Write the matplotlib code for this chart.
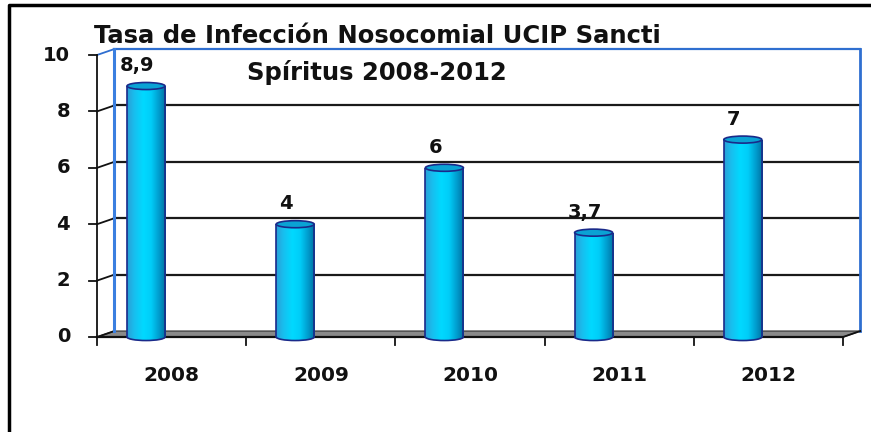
import numpy as np
import matplotlib
matplotlib.use("Agg")
import matplotlib.pyplot as plt
from matplotlib.colors import LinearSegmentedColormap
from matplotlib.patches import Ellipse, Arc, Polygon
from matplotlib.lines import Line2D

YEARS = ["2008", "2009", "2010", "2011", "2012"]
TASA = [8.9, 4, 6, 3.7, 7]
Y_TICKS = [0, 2, 4, 6, 8, 10]
TITLE_1 = "Tasa de Infección Nosocomial UCIP Sancti"
TITLE_2 = "Spíritus 2008-2012"

FONT = "DejaVu Sans"
W, H = 871, 432
PX_CAT = 149.2   # px por categoría
PX_UNIT = 28.2   # px por unidad en y
X0_PX, Y0_PX = 146, 337
DX, DY = 0.115, 0.21        # profundidad 3D
XL = -0.328                  # borde izquierdo del eje frontal
XR = XL + len(YEARS)
BAR_W = 0.255
ELL_H = 0.25

cyl = LinearSegmentedColormap.from_list("cyl", [
    (0.0, "#2a9fd6"), (0.18, "#19bdee"), (0.42, "#00d9ff"),
    (0.62, "#00cdf8"), (0.85, "#0096c8"), (1.0, "#00709e")])

fig = plt.figure(figsize=(W / 100, H / 100), dpi=100)
ax = fig.add_axes([0, 0, 1, 1])
xlim = (-X0_PX / PX_CAT, (W - X0_PX) / PX_CAT)
ylim = (-(H - Y0_PX) / PX_UNIT, Y0_PX / PX_UNIT)
ax.axis("off")

# piso gris
ax.add_patch(Polygon([(XL, 0), (XR, 0), (XR + DX, DY), (XL + DX, DY)],
                     closed=True, facecolor="#8a8a8a", edgecolor="#444444", lw=1, zorder=1))

# rejilla y pared
for v in Y_TICKS[1:-1]:
    ax.plot([XL + DX, XR + DX], [v + DY, v + DY], color="#1a1a1a", lw=1.6, zorder=1)
for v in Y_TICKS:
    c = "#2f6fd0" if v == Y_TICKS[-1] else "#111111"
    ax.plot([XL, XL + DX], [v, v + DY], color=c, lw=1.3, zorder=2)
    ax.plot([XL - 0.055, XL], [v, v], color="#111111", lw=1.3, zorder=2)
    ax.text(-0.509, v, str(v), ha="right", va="center", fontsize=14,
            fontweight="bold", family=FONT, color="#111111")
top = Y_TICKS[-1]
ax.plot([XL + DX, XR + DX], [top + DY, top + DY], color="#2f6fd0", lw=1.6, zorder=2)
ax.plot([XR + DX, XR + DX], [DY, top + DY], color="#2f6fd0", lw=2, zorder=2)
ax.plot([XL + DX, XL + DX], [DY, top + DY], color="#3a7fe0", lw=2.2, zorder=2)
ax.plot([XL, XL], [0, top], color="#111111", lw=1.3, zorder=3)

# eje frontal
ax.plot([XL, XR], [0, 0], color="#111111", lw=1.6, zorder=3)
ax.plot([XR, XR + DX], [0, DY], color="#111111", lw=1.3, zorder=3)
for k in range(len(YEARS) + 1):
    ax.plot([XL + k, XL + k], [0, -0.28], color="#111111", lw=1.3, zorder=3)

# cilindros
xs = np.arange(len(YEARS))
bars = ax.bar(xs, TASA, width=BAR_W, bottom=0, color="none", linewidth=0, zorder=5)
grad = np.linspace(0, 1, 200).reshape(1, -1)
for x, v, b in zip(xs, TASA, bars):
    im = ax.imshow(grad, cmap=cyl, aspect="auto", zorder=5,
                   extent=[x - BAR_W / 2, x + BAR_W / 2, -ELL_H / 2, v])
    im.set_clip_path(b)
    base = Ellipse((x, 0), BAR_W, ELL_H, facecolor="none", edgecolor="none", zorder=5)
    ax.add_patch(base)
    im2 = ax.imshow(grad, cmap=cyl, aspect="auto", zorder=5,
                    extent=[x - BAR_W / 2, x + BAR_W / 2, -ELL_H / 2, ELL_H / 2])
    im2.set_clip_path(base)
    ax.add_patch(Arc((x, 0), BAR_W, ELL_H, theta1=180, theta2=360,
                     color="#1a2a8a", lw=1.2, zorder=6))
    ax.vlines([x - BAR_W / 2, x + BAR_W / 2], 0, v, color="#1a2a8a", lw=1.2, zorder=6)
    ax.add_patch(Ellipse((x, v), BAR_W, ELL_H, facecolor="#0aa2d4",
                         edgecolor="#1a2a8a", lw=1.2, zorder=7))
    ax.text(x - 0.06, v + 0.72, f"{v:g}".replace(".", ","), ha="center", va="center",
            fontsize=14, fontweight="bold", family=FONT, color="#111111", zorder=8)

for k, year in enumerate(YEARS):
    ax.text(XL + k + 0.5, -1.38, year, ha="center", va="center", fontsize=14.5,
            fontweight="bold", family=FONT, color="#111111")

ax.set_xlim(xlim)
ax.set_ylim(ylim)

fig.text(377 / W, 1 - 43 / H, TITLE_1, ha="center", va="baseline", fontsize=17.5,
         fontweight="bold", family=FONT, color="#111111")
fig.text(377 / W, 1 - 80 / H, TITLE_2, ha="center", va="baseline", fontsize=17.5,
         fontweight="bold", family=FONT, color="#111111")

# marco
fig.add_artist(Line2D([9 / W, 9 / W, 1], [0, 1 - 5 / H, 1 - 5 / H],
                      transform=fig.transFigure, color="black", lw=2.5))

fig.savefig("out.png", dpi=100, facecolor="white")
